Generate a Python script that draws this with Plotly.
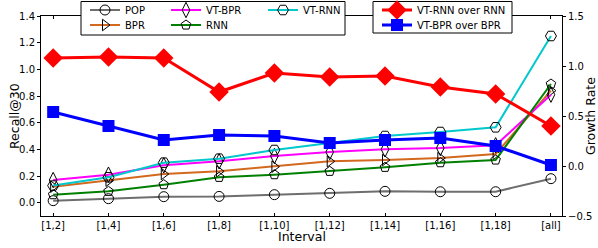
import plotly.graph_objects as go

intervals = ["[1,2]", "[1,4]", "[1,6]", "[1,8]", "[1,10]", "[1,12]", "[1,14]", "[1,16]", "[1,18]", "[all]"]

pop    = [0.015, 0.03, 0.045, 0.047, 0.06, 0.07, 0.085, 0.082, 0.082, 0.18]
bpr    = [0.12, 0.165, 0.215, 0.235, 0.27, 0.31, 0.32, 0.335, 0.365, 0.84]
vt_bpr = [0.17, 0.21, 0.28, 0.31, 0.35, 0.38, 0.40, 0.41, 0.43, 0.81]
rnn    = [0.06, 0.085, 0.135, 0.19, 0.21, 0.235, 0.265, 0.30, 0.32, 0.89]
vt_rnn = [0.128, 0.19, 0.30, 0.33, 0.395, 0.45, 0.50, 0.53, 0.565, 1.25]

growth_rnn = [1.08, 1.09, 1.08, 0.74, 0.93, 0.89, 0.90, 0.79, 0.72, 0.40]
growth_bpr = [0.54, 0.40, 0.26, 0.31, 0.30, 0.23, 0.26, 0.28, 0.20, 0.01]

FONT = "DejaVu Sans"
fig = go.Figure()

left_series = [
    ("POP", pop, "#6e6e6e", "circle", "legend", 10),
    ("BPR", bpr, "#D2691E", "triangle-right", "legend2", 10),
    ("VT-BPR", vt_bpr, "#FF00FF", "diamond-tall", "legend3", 11),
    ("RNN", rnn, "#008000", "pentagon", "legend4", 10),
    ("VT-RNN", vt_rnn, "#00C8CC", "hexagon2", "legend5", 11),
]
for name, vals, col, sym, leg, ms in left_series:
    fig.add_trace(go.Scatter(
        x=intervals, y=vals, name=name, mode="lines+markers",
        line=dict(color=col, width=2),
        marker=dict(symbol=sym, size=ms, color="rgba(0,0,0,0)",
                    line=dict(color="black", width=1)),
        legend=leg, yaxis="y"))

fig.add_trace(go.Scatter(
    x=intervals, y=growth_rnn, name="VT-RNN over RNN", mode="lines+markers",
    line=dict(color="#FF0000", width=3),
    marker=dict(symbol="diamond", size=15, color="#FF0000"),
    legend="legend6", yaxis="y2"))
fig.add_trace(go.Scatter(
    x=intervals, y=growth_bpr, name="VT-BPR over BPR", mode="lines+markers",
    line=dict(color="#0000FF", width=3),
    marker=dict(symbol="square", size=12, color="#0000FF"),
    legend="legend7", yaxis="y2"))

def px2x(px):
    return (px - 41) / 521

def py2y(py):
    return (216 - py) / 200

legend_common = dict(bgcolor="rgba(0,0,0,0)", borderwidth=0,
                     font=dict(family=FONT, size=10, color="black"),
                     xanchor="left", yanchor="middle", orientation="v")

legend_pos = {
    "legend": (85, 10), "legend2": (85, 25),
    "legend3": (166, 10), "legend4": (166, 25),
    "legend5": (263, 10),
    "legend6": (377, 10), "legend7": (377, 25),
}
layout_legends = {k: dict(x=px2x(v[0]), y=py2y(v[1]), **legend_common)
                  for k, v in legend_pos.items()}

shapes = [
    dict(type="rect", xref="paper", yref="paper", layer="above",
         x0=px2x(81), x1=px2x(345), y0=py2y(35), y1=py2y(1.5),
         line=dict(color="black", width=1), fillcolor="white"),
    dict(type="rect", xref="paper", yref="paper", layer="above",
         x0=px2x(373), x1=px2x(512), y0=py2y(33), y1=py2y(1.5),
         line=dict(color="black", width=1), fillcolor="white"),
]

title_font = dict(family=FONT, size=12.5, color="black")
annotations = [
    dict(text="Interval", xref="paper", yref="paper", x=0.5, y=py2y(236),
         xanchor="center", yanchor="middle", showarrow=False, font=title_font),
    dict(text="Recall@30", xref="paper", yref="paper", x=px2x(14), y=0.5,
         xanchor="center", yanchor="middle", textangle=-90, showarrow=False, font=title_font),
    dict(text="Growth Rate", xref="paper", yref="paper", x=px2x(590), y=0.5,
         xanchor="center", yanchor="middle", textangle=-90, showarrow=False, font=title_font),
]

fig.update_layout(
    width=598, height=248,
    margin=dict(l=41, r=36, t=16, b=32, autoexpand=False),
    paper_bgcolor="white", plot_bgcolor="white",
    font=dict(family=FONT, size=10, color="black"),
    showlegend=True,
    shapes=shapes,
    annotations=annotations,
    xaxis=dict(range=[-0.22, 9.2], showgrid=False, zeroline=False,
               showline=True, linecolor="black", linewidth=1, mirror="ticks",
               ticks="inside", ticklen=3, tickcolor="black",
               tickfont=dict(family=FONT, size=10)),
    yaxis=dict(range=[-0.1, 1.4], tickvals=[0, 0.2, 0.4, 0.6, 0.8, 1.0, 1.2, 1.4],
               tickformat=".1f", showgrid=False, zeroline=False,
               showline=True, linecolor="black", linewidth=1, mirror=True,
               ticks="outside", ticklen=3, tickcolor="black",
               tickfont=dict(family=FONT, size=10)),
    yaxis2=dict(range=[-0.5, 1.5], tickvals=[-0.5, 0, 0.5, 1.0, 1.5],
                tickformat=".1f", overlaying="y", side="right",
                showgrid=False, zeroline=False, showline=False,
                ticks="outside", ticklen=3, tickcolor="black",
                tickfont=dict(family=FONT, size=10)),
    **layout_legends,
)

fig.write_html("out.html", config={"displayModeBar": False},
               post_script="document.body.style.margin='0px';")
